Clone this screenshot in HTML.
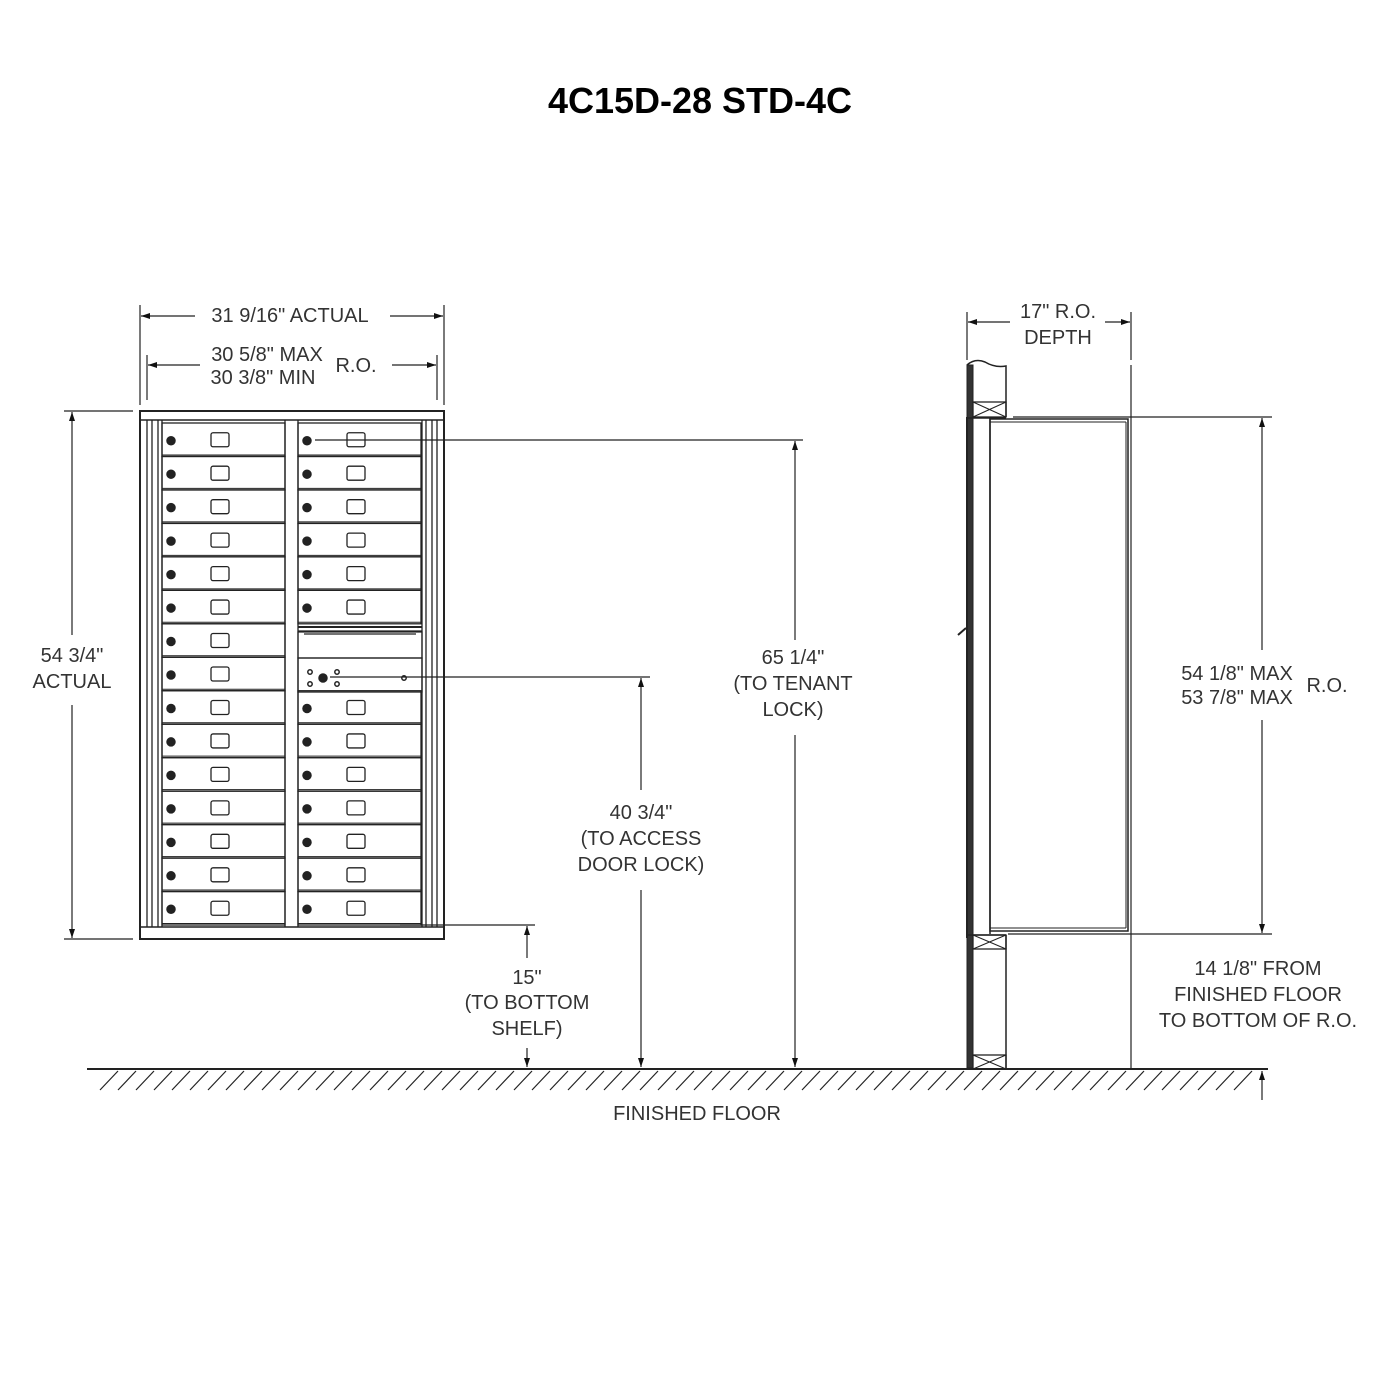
<!DOCTYPE html>
<html><head><style>
html,body{margin:0;padding:0;background:#fff;}
svg{display:block;}
text{font-family:"Liberation Sans",sans-serif;font-size:20px;fill:#333;}
</style></head><body>
<svg id="s" width="1400" height="1400" viewBox="0 0 1400 1400" xmlns="http://www.w3.org/2000/svg">
<defs>
<marker id="a" markerWidth="10" markerHeight="10" refX="9" refY="3" orient="auto-start-reverse" markerUnits="userSpaceOnUse"><path d="M0,0 L9,3 L0,6 Z" fill="#111"/></marker>
</defs>
<text x="700" y="113" text-anchor="middle" style="font-size:36px;font-weight:bold;fill:#000">4C15D-28 STD-4C</text>
<g id="g" stroke="#222" stroke-width="1.5" fill="none"></g>
<g text-anchor="middle">
<text x="290" y="322">31 9/16" ACTUAL</text>
<text x="267" y="361">30 5/8" MAX</text>
<text x="263" y="384">30 3/8" MIN</text>
<text x="356" y="372">R.O.</text>
<text x="72" y="662">54 3/4"</text>
<text x="72" y="688">ACTUAL</text>
<text x="793" y="664">65 1/4"</text>
<text x="793" y="690">(TO TENANT</text>
<text x="793" y="716">LOCK)</text>
<text x="641" y="819">40 3/4"</text>
<text x="641" y="845">(TO ACCESS</text>
<text x="641" y="871">DOOR LOCK)</text>
<text x="527" y="984">15"</text>
<text x="527" y="1009">(TO BOTTOM</text>
<text x="527" y="1035">SHELF)</text>
<text x="697" y="1120">FINISHED FLOOR</text>
<text x="1058" y="318">17"  R.O.</text>
<text x="1058" y="344">DEPTH</text>
<text x="1237" y="680">54 1/8" MAX</text>
<text x="1237" y="704">53 7/8" MAX</text>
<text x="1327" y="692">R.O.</text>
<text x="1258" y="975">14 1/8"  FROM</text>
<text x="1258" y="1001">FINISHED FLOOR</text>
<text x="1258" y="1027">TO BOTTOM OF R.O.</text>
</g>
</svg>
<script>
var g=document.getElementById('g'),NS="http://www.w3.org/2000/svg";
function el(t,a){var e=document.createElementNS(NS,t);for(var k in a)e.setAttribute(k,a[k]);g.appendChild(e);return e;}
function L(x1,y1,x2,y2,w,extra){var a={x1:x1,y1:y1,x2:x2,y2:y2};if(w)a['stroke-width']=w;for(var k in extra||{})a[k]=extra[k];return el('line',a);}
function R(x,y,w,h,o){var a={x:x,y:y,width:w,height:h};for(var k in o||{})a[k]=o[k];return el('rect',a);}
function arr(x1,y1,x2,y2){L(x1,y1,x2,y2,1.2,{'marker-end':'url(#a)'});}
R(140,411,304,528,{'stroke-width':2});
L(140,420,444,420);L(140,927,444,927);
[147,152,158,162,285,298,422,426,432,437].forEach(function(x){L(x,420,x,927,1.3);});
function door(x,y,h){R(x,y,123,h,{'stroke-width':1.3});L(x,y+h-1.5,x+123,y+h-1.5,1);
 el('circle',{cx:x+9,cy:y+h/2+1,r:4,fill:'#222'});
 R(x+49,y+h/2-7,18,14,{rx:2,'stroke-width':1.3});}
var rh=(925-423)/15;
for(var i=0;i<15;i++)door(162,423+i*rh,rh);
for(var i=0;i<6;i++)door(298,423+i*rh,rh);
for(var i=0;i<7;i++)door(298,423+(8+i)*rh,rh);
L(298,627,422,627,2);L(298,631,422,631,1.2);L(304,634,416,634,1.2);
R(298,632,124,26,{'stroke-width':1.2});
R(298,658,124,34,{'stroke-width':1.3});
[[310,672],[310,684],[337,672],[337,684],[404,678]].forEach(function(p){el('circle',{cx:p[0],cy:p[1],r:2.2});});
el('circle',{cx:323,cy:678,r:4,fill:'#222'});
L(140,305,140,405,1.2);L(444,305,444,405,1.2);
arr(195,316,141,316);arr(390,316,443,316);
L(147,355,147,400,1.2);L(437,355,437,400,1.2);
arr(200,365,148,365);arr(392,365,436,365);
L(64,411,133,411,1.2);L(64,939,133,939,1.2);
arr(72,635,72,412);arr(72,705,72,938);
L(315,440,803,440,1.2);arr(795,640,795,441);arr(795,735,795,1067);
L(330,677,650,677,1.2);arr(641,790,641,678);arr(641,890,641,1067);
L(400,925,535,925,1.2);arr(527,958,527,926);arr(527,1048,527,1067);
L(87,1069,1268,1069,2);
for(var x=100;x<1250;x+=18)L(x,1090,x+18,1071,1.2);
R(967,365,6,703,{fill:'#333',stroke:'#222','stroke-width':1});
el('path',{d:'M967,365 Q975,358 985,362 Q995,368 1006,366 L1006,417','stroke-width':1.5});
function xb(y1,y2){R(973,y1,33,y2-y1,{'stroke-width':1.3});L(973,y1,1006,y2,1);L(1006,y1,973,y2,1);}
xb(402,417);xb(935,949);xb(1055,1069);
L(1006,935,1006,1069,1.5);
L(967,417,967,938,2);
L(967,418,1006,418,1.5);L(967,935,1006,935,1.5);
L(990,418,990,934,1.5);
R(990,419,138,512,{'stroke-width':1.5});L(990,422,1126,422,1);L(1126,422,1126,928,1);L(990,928,1126,928,1);
L(958,635,966,628,2);
L(967,312,967,360,1.2);L(1131,312,1131,360,1.2);
arr(1010,322,968,322);arr(1105,322,1130,322);
L(1131,365,1131,1069,1.2);
L(1013,417,1272,417,1.2);L(1008,934,1272,934,1.2);
arr(1262,650,1262,418);arr(1262,720,1262,933);
arr(1262,1100,1262,1071);
</script>
</body></html>
